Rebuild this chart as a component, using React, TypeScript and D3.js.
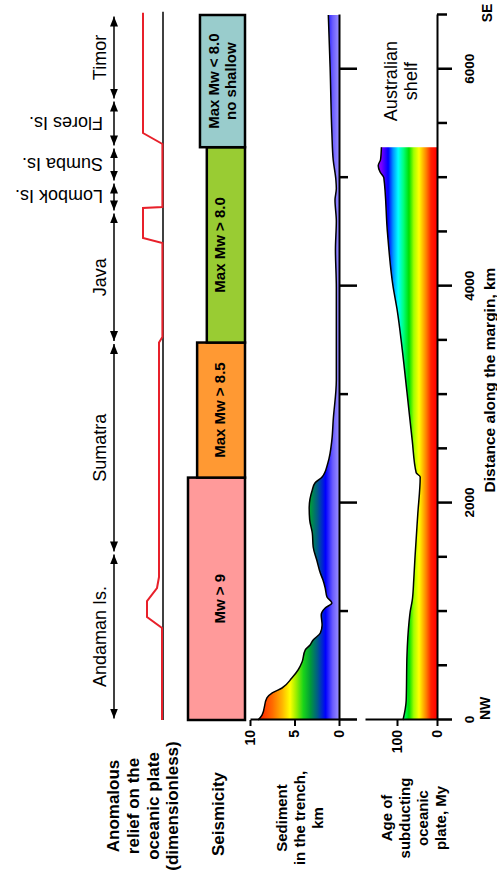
import React, { useEffect, useRef } from 'react';
import * as d3 from 'd3';

const W = 497;
const H = 878;

// Distance along the margin (km)
const ageAxisTicks = [0, 500, 1000, 1500, 2000, 2500, 3000, 3500, 4000, 4500, 5000, 5500, 6000, 6500];
const labeledTicks = [0, 2000, 4000, 6000];
const sedAxisTicks = [0, 1000, 2000, 3000, 4000, 5000, 6000];

// Island segments
const islandNames = ['Andaman Is.', 'Sumatra', 'Java', 'Lombok Is.', 'Sumba Is.', 'Flores Is.', 'Timor'];
const islandStart = [0, 1540, 3480, 4684, 4960, 5283, 5716];
const islandEnd = [1540, 3480, 4684, 4960, 5283, 5716, 6500];
const islandTurned = [false, false, false, true, true, true, false];

// Anomalous relief (dimensionless)
const reliefDist = [0, 848, 950, 1097, 1217, 1318, 3480, 3531, 4398, 4444, 4720, 4730, 5311, 5412, 6520];
const reliefValue = [0.05, 0.05, 0.8, 0.8, 0.3, 0.2, 0.2, 0.03, 0.03, 1.0, 1.0, 0.03, 0.03, 1.0, 1.0];

// Seismicity blocks
const seisLabels = [['Mw > 9'], ['Max Mw > 8.5'], ['Max Mw > 8.0'], ['Max Mw < 8.0', 'no shallow']];
const seisStart = [0, 2235, 3480, 5281];
const seisEnd = [2235, 3480, 5281, 6500];
const seisLevel = [1.0, 0.84, 0.67, 0.79];
const seisColors = ['#ff9a9a', '#ff9933', '#99cc33', '#99cccc'];

// Sediment in the trench (km)
const sedDist = [0, 46, 203, 249, 295, 387, 461, 535, 645, 692, 738, 802, 876, 968, 1033, 1079, 1134, 1217, 1291, 1355, 1475, 1595, 1724, 1850, 1960, 2121, 2185, 2240, 2370, 2582, 2766, 3135, 3500, 3992, 4333, 4600, 4794, 4900, 4979, 5163, 5412, 6021, 6500];
const sedValue = [9.1, 8.65, 8.1, 7.5, 6.4, 5.3, 4.6, 4.15, 3.8, 3.25, 2.9, 2.1, 1.9, 2.0, 1.55, 0.8, 1.35, 1.55, 1.8, 2.1, 2.5, 2.9, 3.0, 3.3, 3.35, 3.0, 2.7, 1.9, 1.25, 0.8, 0.65, 0.3, 0.3, 0.3, 0.4, 0.3, 0.45, 0.3, 0.35, 0.65, 0.8, 1.0, 1.2];
const sedTicks = [0, 5, 10];

// Age of subducting oceanic plate (My)
const ageDist = [0, 180, 600, 900, 1000, 1100, 1300, 1500, 1900, 2240, 2280, 2580, 3020, 3420, 3790, 4000, 4500, 5000, 5050, 5110, 5170, 5281];
const ageValue = [85, 77, 75, 70, 67, 62, 58, 55, 48, 42, 52, 62, 75, 87, 100, 110, 124, 133, 142, 147, 141, 139];
const ageTicks = [0, 100];

// Colour ramps
const sedStopValues = [0, 0.7, 1.5, 2.4, 3.2, 4.0, 4.8, 5.5, 6.4, 7.5, 8.8, 10];
const sedStopColors = ['#9a8fff', '#6a5cff', '#0000ff', '#005a8a', '#009a3a', '#19d419', '#99ee00', '#ffff00', '#ffb400', '#ff6a00', '#ff2a00', '#ff0000'];
const ageStopValues = [0, 15, 27, 45, 58, 70, 84, 97, 110, 122, 140];
const ageStopColors = ['#ff0000', '#ff2000', '#ff8000', '#ffff00', '#a0ff00', '#00e000', '#00ff80', '#00ffff', '#0090ff', '#0000ff', '#8000ff'];

const reliefTitle = ['Anomalous', 'relief on the', 'oceanic plate', '(dimensionless)'];
const seisTitle = ['Seismicity'];
const sedTitle = ['Sediment', 'in the trench,', 'km'];
const ageTitle = ['Age of', 'subducting', 'oceanic', 'plate, My'];
const shelfLabel = ['Australian', 'shelf'];

export default function App() {
  const ref = useRef<SVGSVGElement>(null);

  useEffect(() => {
    const svg = d3.select(ref.current);
    svg.selectAll('*').remove();
    const font = "'Liberation Sans', Arial, Helvetica, sans-serif";
    const defs = svg.append('defs');

    const x = d3.scaleLinear().domain([0, 6500]).range([158, 863]);
    const reliefY = d3.scaleLinear().domain([0, 1]).range([163, 143]);
    const seisY = d3.scaleLinear().domain([0, 1]).range([245, 188]);
    const sedY = d3.scaleLinear().domain([0, 10]).range([339, 250]);
    const ageY = d3.scaleLinear().domain([0, 180]).range([437, 365]);

    const sedGrad = defs.append('linearGradient').attr('id', 'sedGrad')
      .attr('gradientUnits', 'userSpaceOnUse')
      .attr('x1', 0).attr('x2', 0).attr('y1', sedY(0)).attr('y2', sedY(10));
    sedStopValues.forEach((v, i) => sedGrad.append('stop').attr('offset', v / 10).attr('stop-color', sedStopColors[i]));

    const ageGrad = defs.append('linearGradient').attr('id', 'ageGrad')
      .attr('gradientUnits', 'userSpaceOnUse')
      .attr('x1', 0).attr('x2', 0).attr('y1', ageY(0)).attr('y2', ageY(140));
    ageStopValues.forEach((v, i) => ageGrad.append('stop').attr('offset', v / 140).attr('stop-color', ageStopColors[i]));

    defs.append('marker').attr('id', 'arr').attr('viewBox', '0 0 10 8')
      .attr('refX', 10).attr('refY', 4).attr('markerWidth', 10).attr('markerHeight', 8)
      .attr('markerUnits', 'userSpaceOnUse').attr('orient', 'auto-start-reverse')
      .append('path').attr('d', 'M0,0L10,4L0,8Z').attr('fill', '#000');

    const g = svg.append('g').attr('transform', `translate(0,${H}) rotate(-90)`)
      .style('font-family', font);

    // Island arrows and labels
    islandNames.forEach((name, i) => {
      const a = x(islandStart[i]);
      const b = x(islandEnd[i]);
      g.append('line').attr('x1', a + 1.5).attr('x2', b - 1.5).attr('y1', 114).attr('y2', 114)
        .attr('stroke', '#000').attr('stroke-width', 1.5)
        .attr('marker-start', 'url(#arr)').attr('marker-end', 'url(#arr)');
      const mid = (a + b) / 2;
      if (islandTurned[i]) {
        g.append('text').attr('transform', `translate(${mid + 6.5},103) rotate(-90)`)
          .attr('text-anchor', 'start').style('font-size', '18px').text(name);
      } else {
        g.append('text').attr('x', mid).attr('y', 106).attr('text-anchor', 'middle')
          .style('font-size', '18px').text(name);
      }
    });

    // Relief
    g.append('line').attr('x1', x(0)).attr('x2', x(6530)).attr('y1', reliefY(0)).attr('y2', reliefY(0))
      .attr('stroke', '#000').attr('stroke-width', 1.5);
    const reliefPts = reliefDist.map((d, i) => [d, reliefValue[i]] as [number, number]);
    g.append('path').attr('d', d3.line<[number, number]>().x(d => x(d[0])).y(d => reliefY(d[1]))(reliefPts))
      .attr('fill', 'none').attr('stroke', '#e8202a').attr('stroke-width', 2);

    // Seismicity blocks
    seisLabels.forEach((lines, i) => {
      const a = x(seisStart[i]);
      const b = x(seisEnd[i]);
      g.append('rect').attr('x', a).attr('y', seisY(seisLevel[i])).attr('width', b - a)
        .attr('height', seisY(0) - seisY(seisLevel[i]))
        .attr('fill', seisColors[i]).attr('stroke', '#000').attr('stroke-width', 2.5);
      const mid = (a + b) / 2;
      const ys = lines.length === 1 ? [225] : [219, 236];
      lines.forEach((t, j) => {
        g.append('text').attr('x', mid).attr('y', ys[j]).attr('text-anchor', 'middle')
          .style('font-size', '15px').style('font-weight', 'bold').text(t);
      });
    });

    // Sediment
    const sedPts = sedDist.map((d, i) => [d, sedValue[i]] as [number, number]);
    g.append('path')
      .attr('d', d3.area<[number, number]>().x(d => x(d[0])).y0(sedY(0)).y1(d => sedY(d[1])).curve(d3.curveMonotoneX)(sedPts))
      .attr('fill', 'url(#sedGrad)');
    g.append('path')
      .attr('d', d3.line<[number, number]>().x(d => x(d[0])).y(d => sedY(d[1])).curve(d3.curveMonotoneX)(sedPts))
      .attr('fill', 'none').attr('stroke', '#000').attr('stroke-width', 1.5);

    // Age
    const agePts = ageDist.map((d, i) => [d, ageValue[i]] as [number, number]);
    g.append('path')
      .attr('d', d3.area<[number, number]>().x(d => x(d[0])).y0(ageY(0)).y1(d => ageY(d[1])).curve(d3.curveMonotoneX)(agePts))
      .attr('fill', 'url(#ageGrad)');
    g.append('path')
      .attr('d', d3.line<[number, number]>().x(d => x(d[0])).y(d => ageY(d[1])).curve(d3.curveMonotoneX)(agePts))
      .attr('fill', 'none').attr('stroke', '#000').attr('stroke-width', 1.5);

    // Sediment distance axis
    const sedAxis = g.append('g').attr('transform', `translate(0,${sedY(0)})`)
      .call(d3.axisBottom(x).tickValues(sedAxisTicks).tickSizeOuter(0).tickFormat(() => ''));
    sedAxis.select('.domain').attr('stroke-width', 2);
    sedAxis.selectAll<SVGLineElement, number>('.tick line')
      .attr('y2', d => (d % 2000 === 0 ? 18 : 9)).attr('stroke-width', 2.5);

    // Sediment value axis
    const sedLeft = g.append('g').attr('transform', `translate(${x(0)},0)`)
      .call(d3.axisLeft(sedY).tickValues(sedTicks).tickSize(6).tickSizeOuter(0).tickPadding(4));
    sedLeft.attr('font-family', font).attr('font-size', 14).attr('font-weight', 'bold');
    sedLeft.select('.domain').attr('stroke-width', 2);
    sedLeft.selectAll('.tick line').attr('stroke-width', 2);

    // Age distance axis
    const ageAxis = g.append('g').attr('transform', `translate(0,${ageY(0)})`)
      .call(d3.axisBottom(x).tickValues(ageAxisTicks).tickSizeOuter(0)
        .tickFormat(d => (labeledTicks.includes(d as number) ? String(d) : '')));
    ageAxis.attr('font-family', font).attr('font-size', 13.5).attr('font-weight', 'bold');
    ageAxis.select('.domain').attr('stroke-width', 2);
    ageAxis.selectAll<SVGLineElement, number>('.tick line')
      .attr('y2', d => (labeledTicks.includes(d) ? 15 : 10)).attr('stroke-width', 2.5);
    ageAxis.selectAll('.tick text').attr('y', 37).attr('dy', 0);

    // Age value axis
    const ageLeft = g.append('g').attr('transform', `translate(${x(0)},0)`)
      .call(d3.axisLeft(ageY).tickValues(ageTicks).tickSize(6).tickSizeOuter(0).tickPadding(4));
    ageLeft.attr('font-family', font).attr('font-size', 14).attr('font-weight', 'bold');
    ageLeft.select('.domain').attr('stroke-width', 2);
    ageLeft.selectAll('.tick line').attr('stroke-width', 2);

    // Australian shelf label
    const shelfMid = (x(5281) + x(6500)) / 2;
    shelfLabel.forEach((t, j) => {
      g.append('text').attr('x', shelfMid).attr('y', 397 + j * 20).attr('text-anchor', 'middle')
        .style('font-size', '18px').text(t);
    });

    // Panel titles
    const titles: [string[], number, number, number, number][] = [
      [reliefTitle, 72, 119, 19.8, 17],
      [seisTitle, 64, 224, 0, 17],
      [sedTitle, 60, 287, 18, 15],
      [ageTitle, 60, 392, 18, 15],
    ];
    titles.forEach(([lines, cx, y0, dy, fs]) => {
      lines.forEach((t, j) => {
        g.append('text').attr('x', cx).attr('y', y0 + j * dy).attr('text-anchor', 'middle')
          .style('font-size', `${fs}px`).style('font-weight', 'bold').text(t);
      });
    });

    // Axis title and ends
    g.append('text').attr('x', 498).attr('y', 495).attr('text-anchor', 'middle')
      .style('font-size', '15.5px').style('font-weight', 'bold').text('Distance along the margin, km');
    g.append('text').attr('x', x(0)).attr('y', 490).attr('text-anchor', 'start')
      .style('font-size', '14px').style('font-weight', 'bold').text('NW');
    g.append('text').attr('x', x(6500) + 2).attr('y', 492).attr('text-anchor', 'middle')
      .style('font-size', '14px').style('font-weight', 'bold').text('SE');
  }, []);

  return (
    <svg
      ref={ref}
      width={W}
      height={H}
      style={{ position: 'absolute', left: 0, top: 0, background: '#fff' }}
    />
  );
}
